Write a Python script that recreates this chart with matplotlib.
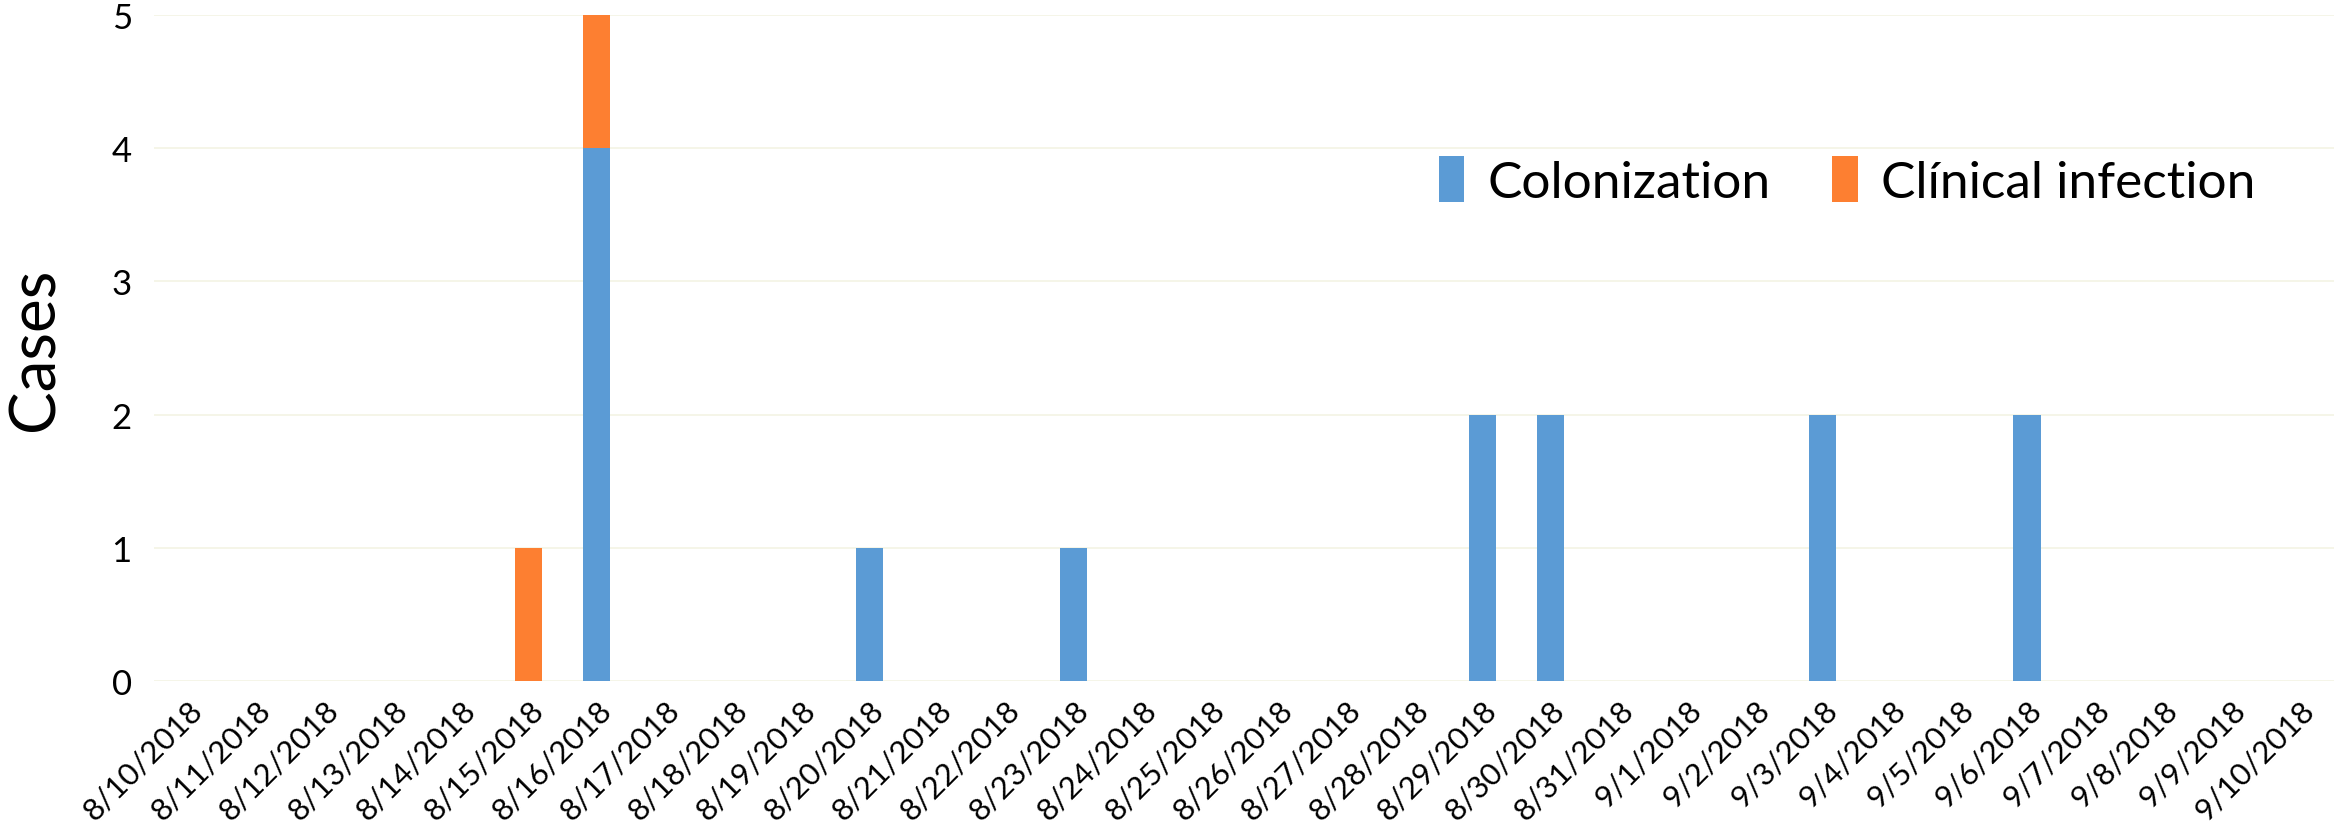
import matplotlib
matplotlib.use("Agg")
import matplotlib.pyplot as plt
import numpy as np
from matplotlib import font_manager

dates = ["8/10/2018", "8/11/2018", "8/12/2018", "8/13/2018", "8/14/2018", "8/15/2018",
         "8/16/2018", "8/17/2018", "8/18/2018", "8/19/2018", "8/20/2018", "8/21/2018",
         "8/22/2018", "8/23/2018", "8/24/2018", "8/25/2018", "8/26/2018", "8/27/2018",
         "8/28/2018", "8/29/2018", "8/30/2018", "8/31/2018", "9/1/2018", "9/2/2018",
         "9/3/2018", "9/4/2018", "9/5/2018", "9/6/2018", "9/7/2018", "9/8/2018",
         "9/9/2018", "9/10/2018"]
colonization = [0, 0, 0, 0, 0, 0, 4, 0, 0, 0, 1, 0, 0, 1, 0, 0, 0, 0, 0, 2, 2, 0, 0, 0,
                2, 0, 0, 2, 0, 0, 0, 0]
clinical = [0, 0, 0, 0, 0, 1, 1, 0, 0, 0, 0, 0, 0, 0, 0, 0, 0, 0, 0, 0, 0, 0, 0, 0,
            0, 0, 0, 0, 0, 0, 0, 0]
yticks = [0, 1, 2, 3, 4, 5]

avail = {f.name for f in font_manager.fontManager.ttflist}
fam = "Liberation Sans Narrow" if "Liberation Sans Narrow" in avail else "Lato"
plt.rcParams['font.family'] = [fam, 'DejaVu Sans']

fig = plt.figure(figsize=(23.41, 8.28), dpi=100)
ax = fig.add_axes([0.0658, 0.1763, 0.931, 0.8044])

x = np.arange(len(dates))
blue = '#5B9BD5'
orange = '#FD7F31'
ax.bar(x, colonization, width=0.4, color=blue, label='Colonization', zorder=3)
ax.bar(x, clinical, width=0.4, bottom=colonization, color=orange,
       label='Clínical infection', zorder=3)

ax.set_xlim(-0.5, len(dates) - 0.5)
ax.set_ylim(0, 5)
ax.set_yticks(yticks)
ax.set_yticklabels([str(v) for v in yticks], fontsize=25)
ax.set_xticks(x)
ax.set_xticklabels(dates, rotation=45, ha='right', rotation_mode='anchor', fontsize=22.5)
ax.tick_params(axis='both', length=0)
ax.tick_params(axis='y', pad=16)
ax.tick_params(axis='x', pad=10)
for s in ax.spines.values():
    s.set_visible(False)
ax.yaxis.grid(True, color='#f3f3e4', linewidth=1.2, zorder=0)
ax.set_axisbelow(True)

ax.set_ylabel('Cases', fontsize=46)
ax.yaxis.set_label_coords(-0.041, 0.5)

fig.legend(loc='center', bbox_to_anchor=(0.789, 0.78), ncol=2, frameon=False,
           fontsize=37, handlelength=0.5, handleheight=1.0, handletextpad=0.45,
           columnspacing=1.2)

fig.savefig('out.png', dpi=100)
